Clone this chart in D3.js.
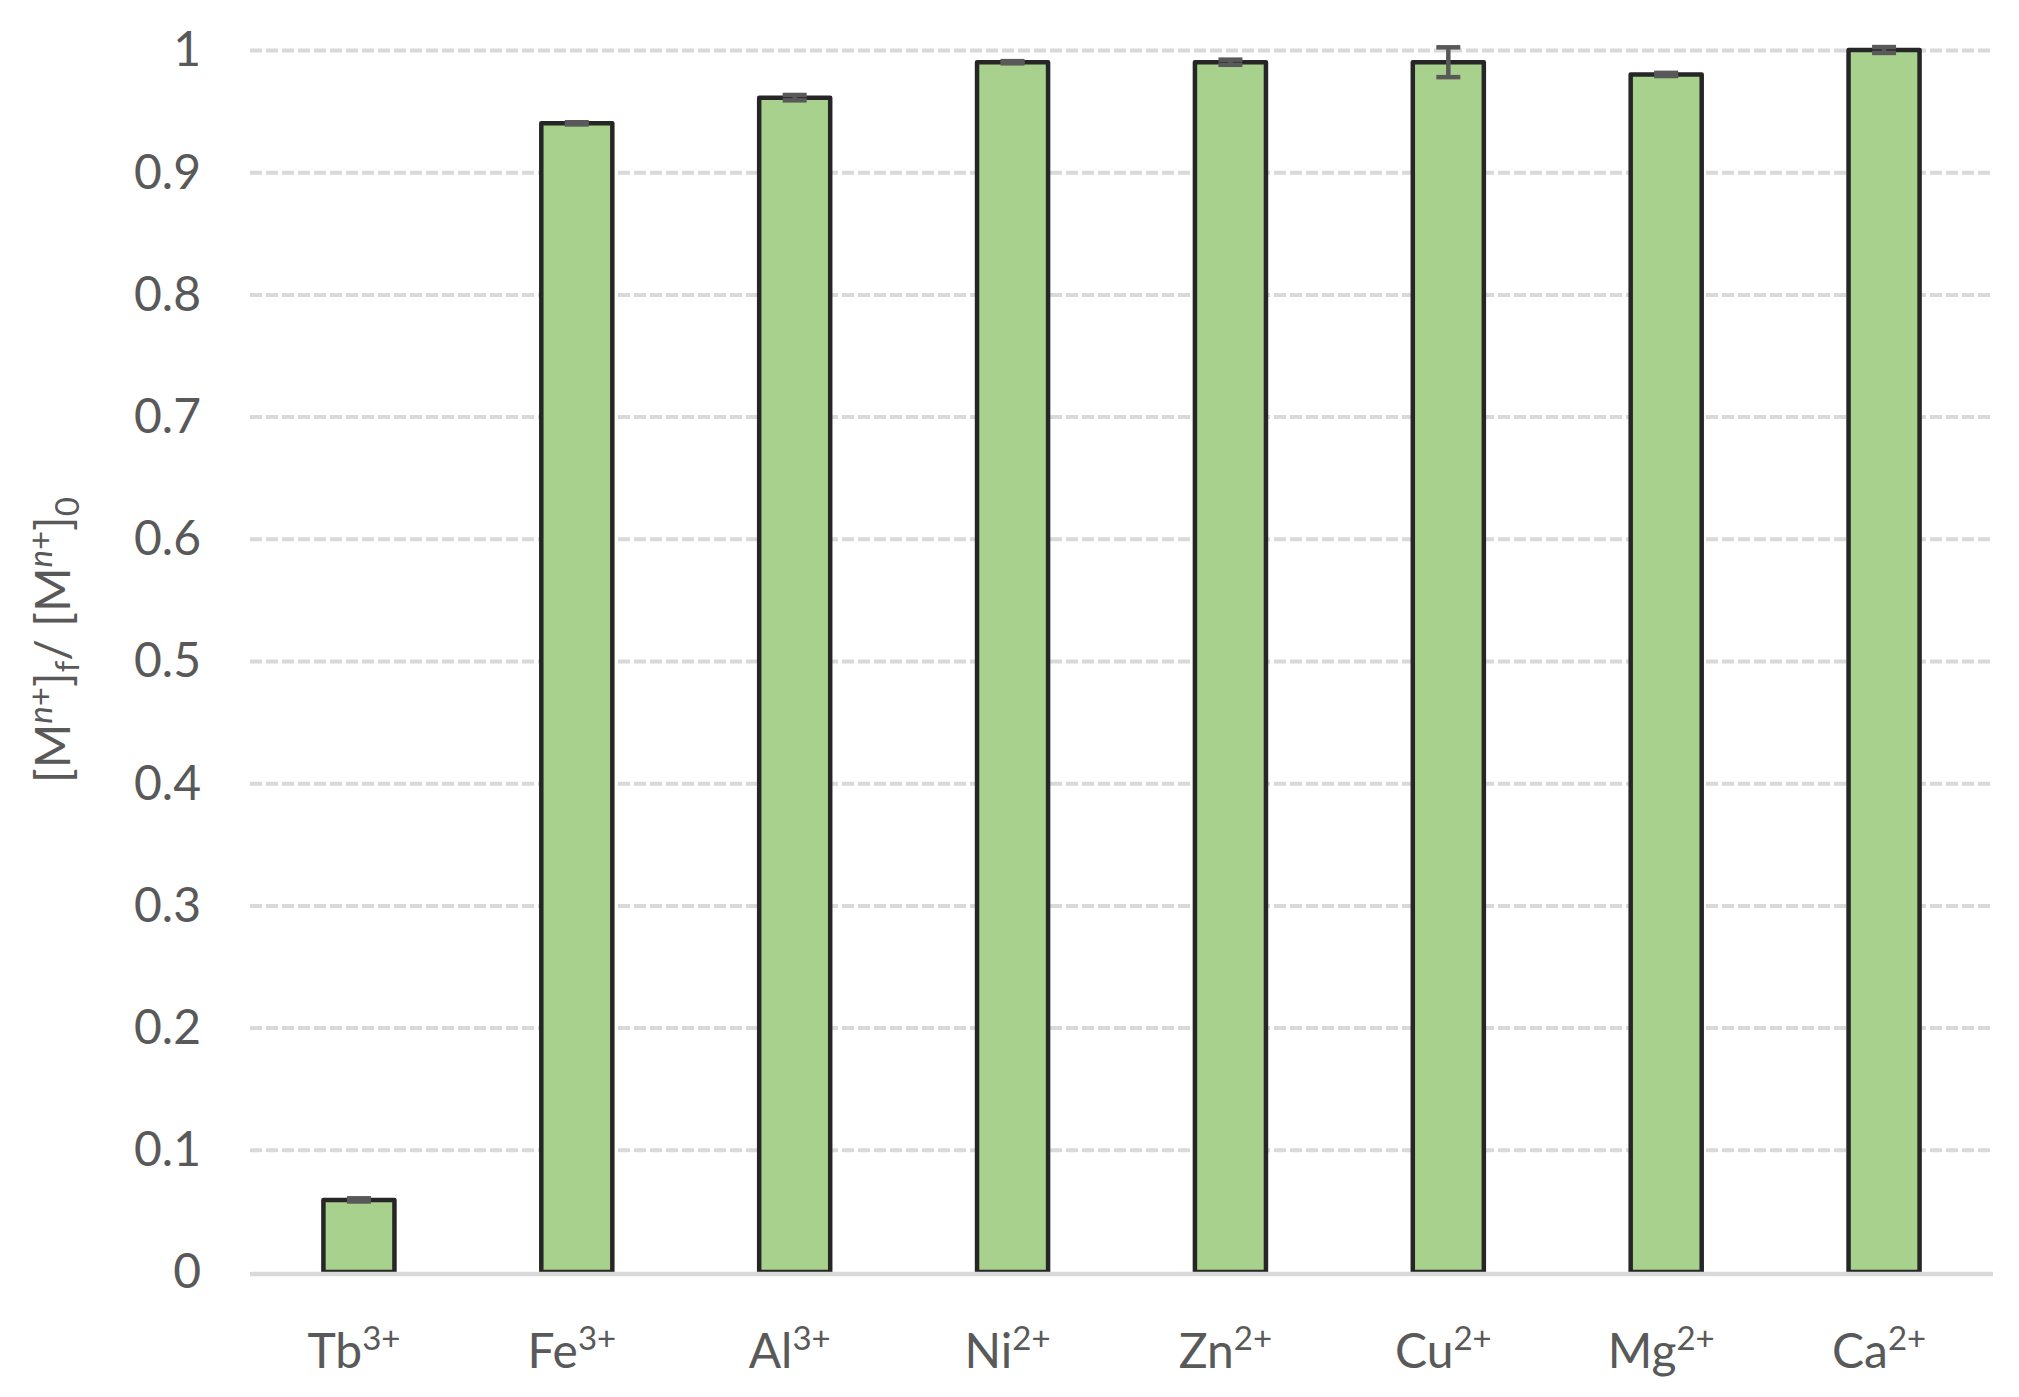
<!DOCTYPE html>
<html>
<head>
<meta charset="utf-8">
<script src="https://cdn.jsdelivr.net/npm/d3@7"></script>
<style>
  html, body { margin: 0; padding: 0; background: #ffffff; }
  svg { display: block; }
  text { font-family: Lato, "Noto Sans", sans-serif; fill: #595959; }
</style>
</head>
<body>
<svg id="chart" width="2019" height="1397"></svg>
<script>
// ---- data ----
const ions = ["Tb", "Fe", "Al", "Ni", "Zn", "Cu", "Mg", "Ca"];
const charges = ["3+", "3+", "3+", "2+", "2+", "2+", "2+", "2+"];
const fraction = [0.059, 0.940, 0.961, 0.990, 0.990, 0.990, 0.980, 1.000];
const errorBars = [0.0013, 0.0009, 0.0022, 0.0009, 0.0021, 0.0122, 0.0013, 0.0024];
const yTickValues = [0, 0.1, 0.2, 0.3, 0.4, 0.5, 0.6, 0.7, 0.8, 0.9, 1];
const yTickLabels = ["0", "0.1", "0.2", "0.3", "0.4", "0.5", "0.6", "0.7", "0.8", "0.9", "1"];

// ---- layout ----
const svg = d3.select("#chart");
const plot = { left: 250, right: 1993, top: 50, bottom: 1272 };

const x = d3.scaleBand()
  .domain(ions)
  .range([plot.left, plot.right])
  .paddingInner(0.674)
  .paddingOuter(0.337);

const y = d3.scaleLinear().domain([0, 1]).range([plot.bottom, plot.top]);

// gridlines
const grid = svg.append("g")
  .attr("transform", `translate(${plot.left},0)`)
  .call(d3.axisLeft(y).tickValues(yTickValues.filter(d => d !== 0))
    .tickSize(-(plot.right - plot.left)).tickFormat(""));
grid.select(".domain").remove();
grid.selectAll(".tick line")
  .attr("stroke", "#d9d9d9")
  .attr("stroke-width", 4)
  .attr("stroke-dasharray", "12,4");

// y tick labels
const yAxis = svg.append("g")
  .attr("transform", `translate(201,0)`)
  .call(d3.axisLeft(y).tickValues(yTickValues).tickSize(0).tickPadding(0)
    .tickFormat((d, i) => yTickLabels[i]));
yAxis.select(".domain").remove();
yAxis.selectAll(".tick text")
  .attr("font-size", 48)
  .attr("fill", "#595959")
  .attr("dy", "0.33em")
  .style("font-family", "Lato, 'Noto Sans', sans-serif");

// bars
const barData = ions.map((d, i) => ({ ion: d, v: fraction[i], e: errorBars[i] }));
svg.append("g").selectAll("rect")
  .data(barData)
  .join("rect")
  .attr("x", d => x(d.ion))
  .attr("y", d => y(d.v))
  .attr("width", x.bandwidth())
  .attr("height", d => y(0) - y(d.v))
  .attr("fill", "#a9d18e")
  .attr("stroke", "#262626")
  .attr("stroke-width", 4.5)
  .attr("stroke-linejoin", "round");

// zero axis line
svg.append("line")
  .attr("x1", plot.left).attr("x2", plot.right)
  .attr("y1", y(0) + 2).attr("y2", y(0) + 2)
  .attr("stroke", "#d9d9d9")
  .attr("stroke-width", 4.5);

// error bars
const eb = svg.append("g").attr("stroke", "#595959").attr("stroke-width", 4.5);
barData.forEach(d => {
  const cx = x(d.ion) + x.bandwidth() / 2;
  const capW = 24;
  eb.append("line").attr("x1", cx).attr("x2", cx)
    .attr("y1", y(d.v + d.e)).attr("y2", y(d.v - d.e));
  eb.append("line").attr("x1", cx - capW / 2).attr("x2", cx + capW / 2)
    .attr("y1", y(d.v + d.e)).attr("y2", y(d.v + d.e));
  eb.append("line").attr("x1", cx - capW / 2).attr("x2", cx + capW / 2)
    .attr("y1", y(d.v - d.e)).attr("y2", y(d.v - d.e));
});

// x labels
const xAxis = svg.append("g")
  .attr("transform", `translate(0,1368)`)
  .call(d3.axisBottom(x).tickSize(0).tickPadding(0).tickFormat(""));
xAxis.select(".domain").remove();
xAxis.selectAll(".tick").each(function(d, i) {
  const t = d3.select(this).append("text")
    .attr("x", -5)
    .attr("y", 0)
    .attr("text-anchor", "middle")
    .attr("font-size", 48)
    .attr("fill", "#595959");
  t.append("tspan").text(d);
  t.append("tspan").attr("font-size", 33).attr("dy", -18).text(charges[i]);
});

// y axis title
const title = svg.append("text")
  .attr("transform", "translate(70,640) rotate(-90)")
  .attr("text-anchor", "middle")
  .attr("font-size", 48)
  .attr("fill", "#595959");
title.append("tspan").text("[M");
title.append("tspan").attr("font-size", 33).attr("dy", -18).attr("font-style", "italic").text("n");
title.append("tspan").attr("font-size", 33).text("+");
title.append("tspan").attr("dy", 18).text("]");
title.append("tspan").attr("font-size", 33).attr("dy", 9).text("f");
title.append("tspan").attr("dy", -9).text("/ [M");
title.append("tspan").attr("font-size", 33).attr("dy", -18).attr("font-style", "italic").text("n");
title.append("tspan").attr("font-size", 33).text("+");
title.append("tspan").attr("dy", 18).text("]");
title.append("tspan").attr("font-size", 33).attr("dy", 9).text("0");
</script>
</body>
</html>
